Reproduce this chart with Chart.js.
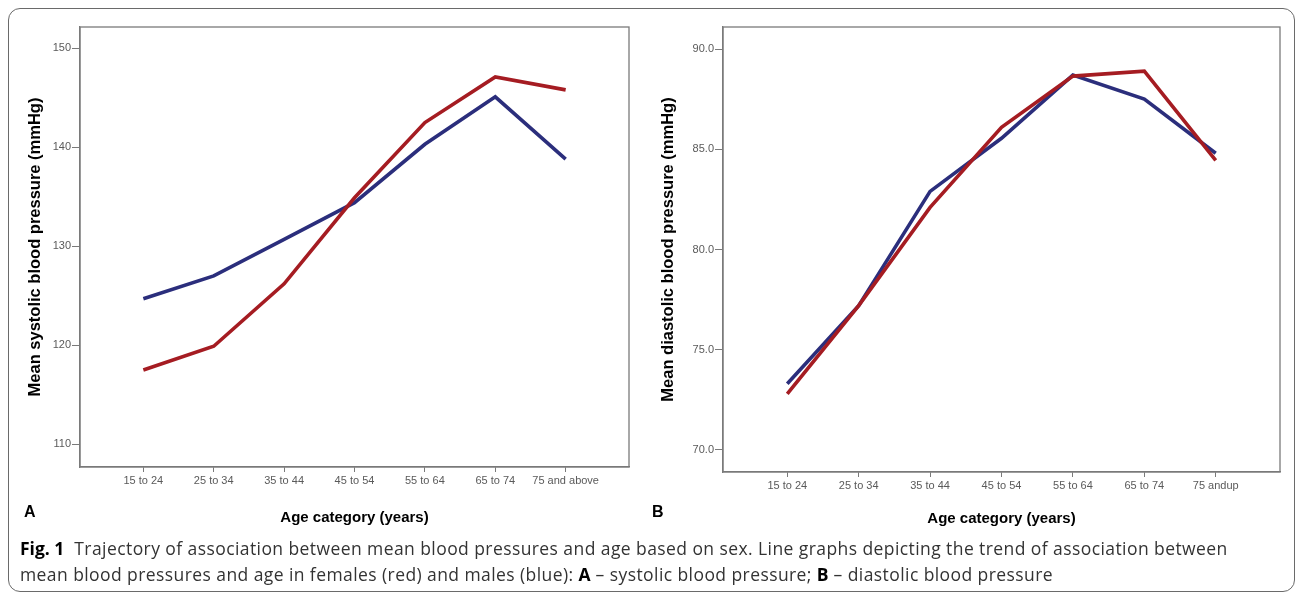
<!DOCTYPE html>
<html>
<head>
<meta charset="utf-8">
<script src="https://cdn.jsdelivr.net/npm/chart.js@4.4.1/dist/chart.umd.min.js"></script>
<style>
  body { margin: 0; background: #fff; width: 1295px; height: 595px; overflow: hidden; position: relative; }
  #frame { position: absolute; left: 8px; top: 8px; width: 1287px; height: 584px; box-sizing: border-box;
           border: 1px solid #6a6a6a; border-radius: 12px; }
  canvas { position: absolute; top: 0; }
  .panel { position: absolute; top: 504px; font: bold 16px "Liberation Sans", Arial, sans-serif; line-height: 1; color: #000; }
  #caption { position: absolute; left: 20px; top: 535px; font: 17.5px "Open Sans", sans-serif; letter-spacing: 0.42px;
             line-height: 26px; color: #333; white-space: nowrap; }
  #caption b { color: #000; letter-spacing: 0; }
</style>
</head>
<body>
<div id="frame"></div>
<canvas id="chartA" width="645" height="540" style="left:0px"></canvas>
<canvas id="chartB" width="650" height="540" style="left:645px"></canvas>
<div class="panel" style="left:24px">A</div>
<div class="panel" style="left:652px">B</div>
<div id="caption"><b>Fig. 1</b>&nbsp; Trajectory of association between mean blood pressures and age based on sex. Line graphs depicting the trend of association between<br>mean blood pressures and age in females (red) and males (blue): <b>A</b> – systolic blood pressure; <b>B</b> – diastolic blood pressure</div>
<script>
	var ageGroupsA = ['15 to 24', '25 to 34', '35 to 44', '45 to 54', '55 to 64', '65 to 74', '75 and above'];
	var ageGroupsB = ['15 to 24', '25 to 34', '35 to 44', '45 to 54', '55 to 64', '65 to 74', '75 andup'];

	// systolic (panel A)
	var systolicFemale = [117.5, 119.9, 126.2, 134.9, 142.5, 147.1, 145.8];
	var systolicMale = [124.7, 127.0, 130.7, 134.4, 140.3, 145.1, 138.8];
	var systolicTicks = [110, 120, 130, 140, 150];

	// diastolic (panel B)
	var diastolicFemale = [72.8, 77.2, 82.1, 86.1, 88.65, 88.9, 84.45];
	var diastolicMale = [73.3, 77.2, 82.9, 85.55, 88.7, 87.5, 84.8];
	var diastolicTicks = [70, 75, 80, 85, 90];

	var femaleColor = '#a51c22';
	var maleColor = '#2b2e7c';
	var axisColor = '#7a7a7a';
	var tickColor = '#5a5a5a';

	// draws the top and right edge of the plot box
	var boxPlugin = {
		id : 'box',
		afterDraw : function(chart) {
			var a = chart.chartArea;
			var ctx = chart.ctx;
			ctx.save();
			ctx.strokeStyle = axisColor;
			ctx.lineWidth = 1.3;
			ctx.strokeRect(a.left, a.top, a.right - a.left, a.bottom - a.top);
			ctx.restore();
		}
	};

	function toPoints(values) {
		return values.map(function(v, i) {
			return { x : i, y : v };
		});
	}

	function buildChart(canvasId, labels, female, male, yTicks, yMin, yMax, yTitle, opts) {
		const data = {
			datasets : [ {
				type : 'line',
				label : 'Females',
				data : toPoints(female),
				borderColor : femaleColor,
				borderWidth : 3.6,
				pointRadius : 0,
				tension : 0,
			}, {
				type : 'line',
				label : 'Males',
				data : toPoints(male),
				borderColor : maleColor,
				borderWidth : 3.6,
				pointRadius : 0,
				tension : 0,
			} ]
		};

		const config = {
			data : data,
			plugins : [ boxPlugin ],
			options : {
				responsive : false,
				animation : false,
				devicePixelRatio : 1,
				layout : {
					padding : { top : 27, right : opts.padRight, left : 0, bottom : 0 }
				},
				plugins : {
					legend : { display : false },
					tooltip : { enabled : false },
				},
				scales : {
					x : {
						type : 'linear',
						min : -0.9,
						max : 6.9,
						afterBuildTicks : function(scale) {
							scale.ticks = labels.map(function(l, i) { return { value : i }; });
						},
						afterFit : function(scale) { scale.height = opts.xHeight; },
						grid : { drawOnChartArea : false, color : axisColor, tickLength : 5, lineWidth : 1 },
						border : { color : axisColor, width : 1.3 },
						ticks : {
							color : tickColor,
							padding : 2,
							maxRotation : 0,
							autoSkip : false,
							font : { family : '"Liberation Sans", Arial, sans-serif', size : 11 },
							callback : function(v) { return labels[v]; },
						},
						title : {
							display : true,
							text : 'Age category (years)',
							color : '#000',
							padding : { top : 0, bottom : opts.xTitlePad },
							font : { family : '"Liberation Sans", Arial, sans-serif', size : 15, weight : 'bold' },
						},
					},
					y : {
						min : yMin,
						max : yMax,
						afterBuildTicks : function(scale) {
							scale.ticks = yTicks.map(function(v) { return { value : v }; });
						},
						afterFit : function(scale) { scale.width = opts.yWidth; },
						grid : { drawOnChartArea : false, color : axisColor, tickLength : 8, lineWidth : 1 },
						border : { color : axisColor, width : 1.3 },
						ticks : {
							color : tickColor,
							padding : 1,
							font : { family : '"Liberation Sans", Arial, sans-serif', size : 11 },
							callback : opts.yFormat,
						},
						title : {
							display : true,
							text : yTitle,
							color : '#000',
							padding : { top : opts.yTitlePad, bottom : 0 },
							font : { family : '"Liberation Sans", Arial, sans-serif', size : 16.5, weight : 'bold' },
						},
					},
				},
			},
		};

		return new Chart(document.getElementById(canvasId), config);
	}

	buildChart('chartA', ageGroupsA, systolicFemale, systolicMale, systolicTicks, 107.7, 152.15,
		'Mean systolic blood pressure (mmHg)',
		{ padRight : 16, xHeight : 73, yWidth : 80, xTitlePad : 13, yTitlePad : 26,
		  yFormat : function(v) { return String(v); } });

	buildChart('chartB', ageGroupsB, diastolicFemale, diastolicMale, diastolicTicks, 68.9, 91.1,
		'Mean diastolic blood pressure (mmHg)',
		{ padRight : 15, xHeight : 68, yWidth : 78, xTitlePad : 12, yTitlePad : 14,
		  yFormat : function(v) { return v.toFixed(1); } });
</script>
</body>
</html>
